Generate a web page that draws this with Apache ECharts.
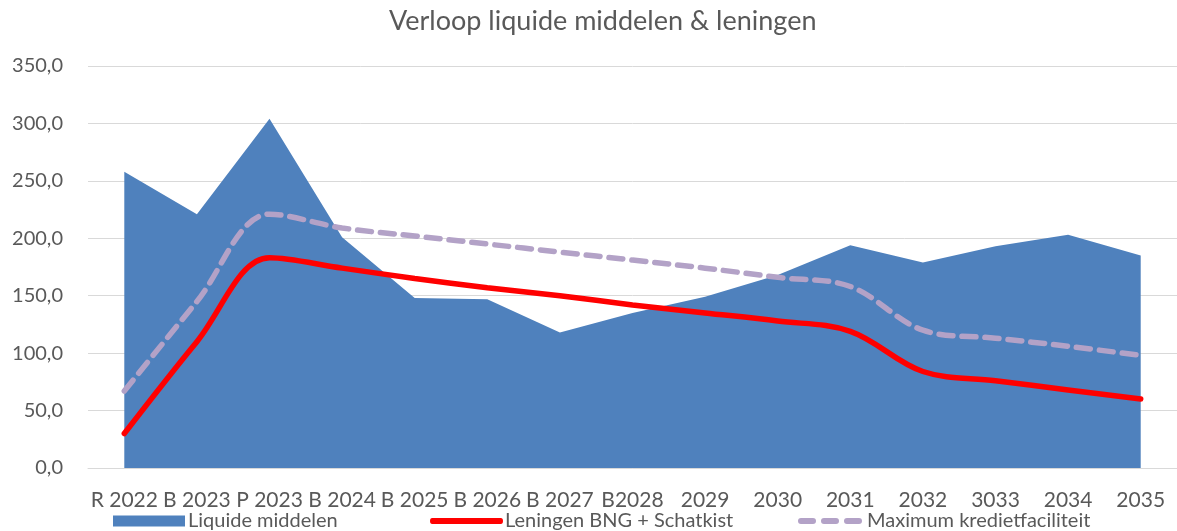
<!DOCTYPE html>
<html><head><meta charset="utf-8">
<script src="https://cdn.jsdelivr.net/npm/echarts@6/dist/echarts.min.js"></script>
<style>html,body{margin:0;padding:0;background:#fff}#c{width:1177px;height:531px}</style>
</head><body><div id="c"></div>
<script>
const categories = ['R 2022','B 2023','P 2023','B 2024','B 2025','B 2026','B 2027','B2028','2029','2030','2031','2032','3033','2034','2035'];
const liquideMiddelen = [258, 221, 304, 201, 148, 147, 118, 135, 149, 168, 194, 179, 193, 203, 185];
const leningen = [30, 110, 183, 174, 165, 157, 150, 142, 135, 128, 119, 84, 76, 68, 60];
const maxKrediet = [67, 145, 221, 209, 202, 195, 188, 181, 174, 166, 158, 120, 113, 106, 98];
const yTicks = [0, 50, 100, 150, 200, 250, 300, 350];

const FONT = 'Lato';
const GREY = '#595959';
const legendText = { fontFamily: FONT, fontSize: 20, color: GREY };
const pill = x => `M${x + 3},0h12a3,3 0 0 1 0,6h-12a3,3 0 0 1 0,-6z`;
const chart = echarts.init(document.getElementById('c'));
chart.setOption({
  animation: false,
  textStyle: { fontFamily: FONT },
  title: {
    text: 'Verloop liquide middelen & leningen',
    left: 384, top: 3,
    textStyle: { fontFamily: FONT, fontSize: 27, fontWeight: 'normal', color: GREY }
  },
  legend: [
    { data: [{ name: 'Liquide middelen', icon: 'rect' }], left: 108, top: 506, itemWidth: 72, itemHeight: 11, itemGap: 0,
      symbolKeepAspect: false, textStyle: Object.assign({ padding: [0, 0, 0, -2] }, legendText) },
    { data: [{ name: 'Leningen BNG + Schatkist', icon: 'path://M3,0h94a3,3 0 0 1 0,6h-94a3,3 0 0 1 0,-6z' }], left: 425, top: 506,
      itemWidth: 73, itemHeight: 6, symbolKeepAspect: false, textStyle: Object.assign({ padding: [0, 0, 0, -3] }, legendText) },
    { data: [{ name: 'Maximum kredietfaciliteit', icon: 'path://' + pill(0) + ' ' + pill(23) + ' ' + pill(46) }], left: 793, top: 506,
      itemWidth: 64, itemHeight: 6, symbolKeepAspect: false, textStyle: Object.assign({ padding: [0, 0, 0, 0] }, legendText) }
  ],
  grid: { left: 88, right: 0, top: 66, bottom: 63, containLabel: false },
  xAxis: {
    type: 'category', data: categories, boundaryGap: true,
    axisLine: { lineStyle: { color: '#D9D9D9', width: 1 } },
    axisTick: { show: false },
    axisLabel: { interval: 0, fontFamily: FONT, fontSize: 21, color: GREY, margin: 22 }
  },
  yAxis: {
    type: 'value', min: 0, max: 350, interval: 50,
    axisLine: { show: false }, axisTick: { show: false },
    splitLine: { lineStyle: { color: '#D9D9D9', width: 1 } },
    axisLabel: {
      fontFamily: FONT, fontSize: 20, color: GREY, margin: 25,
      formatter: v => yTicks.includes(v) ? v.toFixed(1).replace('.', ',') : ''
    }
  },
  series: [
    { name: 'Liquide middelen', type: 'line', data: liquideMiddelen, symbol: 'none',
      lineStyle: { width: 0, color: '#4F81BD' }, itemStyle: { color: '#4F81BD' },
      areaStyle: { color: '#4F81BD', opacity: 1 } },
    { name: 'Leningen BNG + Schatkist', type: 'line', data: leningen, symbol: 'none', smooth: 0.35,
      lineStyle: { width: 5.5, color: '#FF0000', cap: 'round' }, itemStyle: { color: '#FF0000' } },
    { name: 'Maximum kredietfaciliteit', type: 'line', data: maxKrediet, symbol: 'none', smooth: 0.35,
      lineStyle: { width: 5.5, color: '#B3A2C7', type: [14, 9], cap: 'round' }, itemStyle: { color: '#B3A2C7' } }
  ]
});
</script></body></html>
